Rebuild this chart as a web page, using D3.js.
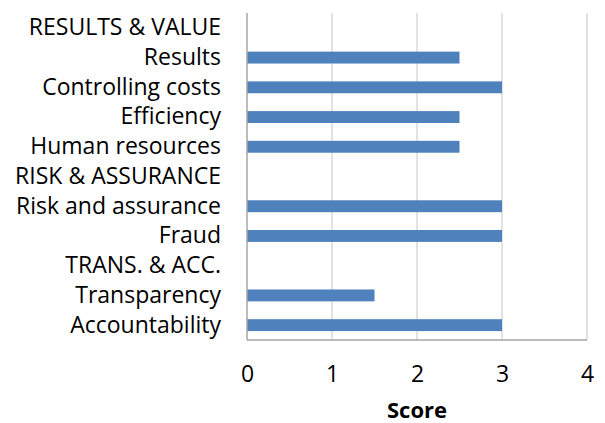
<!DOCTYPE html>
<html>
<head>
<meta charset="utf-8">
<script src="https://cdn.jsdelivr.net/npm/d3@7"></script>
<style>
  html, body { margin: 0; padding: 0; background: #fff; }
  svg { display: block; }
  text { font-family: "Open Sans", sans-serif; fill: #000; }
</style>
</head>
<body>
<svg id="chart" width="605" height="423"></svg>
<script>
const categories = [
  "RESULTS & VALUE", "Results", "Controlling costs", "Efficiency", "Human resources",
  "RISK & ASSURANCE", "Risk and assurance", "Fraud",
  "TRANS. & ACC.", "Transparency", "Accountability"
];
const scores = [null, 2.5, 3, 2.5, 2.5, null, 3, 3, null, 1.5, 3];
const xTicks = [0, 1, 2, 3, 4];
const xTitle = "Score";

const FONT = "'Open Sans', sans-serif";
const svg = d3.select("#chart");
const margin = { left: 247, right: 18, top: 13, bottom: 83 };
const W = 605, H = 423;

const x = d3.scaleLinear().domain([0, 4]).range([margin.left, W - margin.right]);
const y = d3.scaleBand().domain(categories).range([margin.top, H - margin.bottom]).paddingInner(0.6).paddingOuter(0.3);

// gridlines
svg.append("g").selectAll("line").data(xTicks.filter(d => d > 0)).join("line")
  .attr("x1", d => x(d)).attr("x2", d => x(d))
  .attr("y1", margin.top).attr("y2", H - margin.bottom)
  .attr("stroke", "#d9d9d9").attr("stroke-width", 1.5);

// bars
const data = categories.map((c, i) => ({ c, v: scores[i] })).filter(d => d.v !== null);
svg.append("g").selectAll("rect").data(data).join("rect")
  .attr("x", x(0))
  .attr("y", d => y(d.c))
  .attr("width", d => x(d.v) - x(0))
  .attr("height", y.bandwidth())
  .attr("fill", "#4f81bd");

// axes lines
svg.append("line").attr("x1", x(0)).attr("x2", x(0))
  .attr("y1", margin.top).attr("y2", H - margin.bottom)
  .attr("stroke", "#a6a6a6").attr("stroke-width", 1.5);
svg.append("line").attr("x1", x(0)).attr("x2", x(4))
  .attr("y1", H - margin.bottom).attr("y2", H - margin.bottom)
  .attr("stroke", "#a6a6a6").attr("stroke-width", 1.5);

// y labels
const yAxis = d3.axisLeft(y).tickSize(0).tickPadding(26);
const gy = svg.append("g").attr("transform", `translate(${x(0)},0)`).call(yAxis);
gy.select(".domain").remove();
gy.selectAll("text").style("font-size", "23px").style("font-family", FONT).attr("fill", "#000");

// x labels
const xAxis = d3.axisBottom(x).tickValues(xTicks).tickSize(0).tickPadding(26).tickFormat(d3.format("d"));
const gx = svg.append("g").attr("transform", `translate(0,${H - margin.bottom})`).call(xAxis);
gx.select(".domain").remove();
gx.selectAll("text").style("font-size", "23px").style("font-family", FONT).attr("fill", "#000");

svg.append("text").attr("x", (x(0) + x(4)) / 2).attr("y", 418)
  .attr("text-anchor", "middle").style("font-size", "22px").style("font-weight", "bold")
  .style("font-family", FONT)
  .text(xTitle);
</script>
</body>
</html>
